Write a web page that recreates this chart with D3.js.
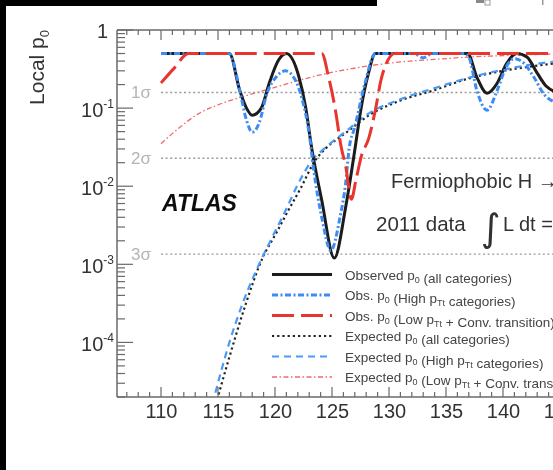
<!DOCTYPE html>
<html><head><meta charset="utf-8">
<script src="https://cdn.jsdelivr.net/npm/d3@7/dist/d3.min.js"></script>
<style>
html,body{margin:0;padding:0;background:#fff;overflow:hidden;}
svg{display:block;font-family:"Liberation Sans",Arial,Helvetica,sans-serif;}
</style></head>
<body><svg id="c" width="553" height="470"></svg>
<script>
// ---------- data ----------
const xTickValues = [110,115,120,125,130,135,140,145,150];
const xTickLabels = ["110","115","120","125","130","135","140","145","150"];
const yTickValues = [1,0.1,0.01,0.001,0.0001];
const yTickExponents = [null,"-1","-2","-3","-4"];
const sigmaLabels = ["1σ","2σ","3σ"];
const sigmaP = [0.1587,0.02275,0.00135];

const obsAllMass = [110,116.0,116.9,117.5,118.0,118.8,119.5,120.3,121.0,122.1,122.7,123.2,124.1,125.2,126.2,127.0,127.5,128.2,128.8,136.9,137.7,138.6,139.5,140.3,141.2,142.1,143.0,143.8,144.6];
const obsAllP    = [0.5,0.5,0.17,0.10,0.081,0.10,0.21,0.41,0.5,0.25,0.10,0.032,0.0066,0.0012,0.0054,0.029,0.09,0.28,0.5,0.5,0.25,0.155,0.21,0.37,0.5,0.45,0.28,0.19,0.16];

const obsHighMass = [110,116.0,116.3,116.9,117.5,118.0,118.6,119.3,120.1,120.9,121.7,122.4,123.0,123.4,124.1,124.9,125.7,126.2,126.5,127.0,127.9,128.8,132.2,133.0,133.8,136.6,137.0,137.7,138.6,139.5,140.3,141.0,141.8,142.7,143.6,144.5];
const obsHighP    = [0.5,0.5,0.41,0.17,0.07,0.049,0.064,0.155,0.25,0.30,0.24,0.127,0.047,0.016,0.004,0.0015,0.004,0.011,0.03,0.057,0.21,0.5,0.5,0.44,0.5,0.5,0.45,0.17,0.094,0.17,0.34,0.43,0.38,0.25,0.15,0.12];

const obsLowMass = [110,111.2,112.4,124.1,124.7,125.3,125.8,126.2,126.7,127.1,127.6,128.2,128.8,129.3,129.9,130.5,150];
const obsLowP    = [0.21,0.33,0.5,0.5,0.25,0.094,0.032,0.018,0.0068,0.012,0.025,0.04,0.094,0.23,0.41,0.5,0.5];

const expAllMass = [114.8,116.0,117.4,118.9,120.1,121.2,122.3,123.4,124.5,126.2,128.2,131.0,134.0,137.0,140.0,143.0,146.5,150];
const expAllP    = [1.6e-5,6.5e-5,3.0e-4,1.2e-3,2.5e-3,5.0e-3,9.7e-3,0.020,0.031,0.048,0.08,0.125,0.17,0.24,0.30,0.35,0.40,0.44];

const expHighMass = [114.5,116.0,117.1,118.3,119.6,120.9,122.0,123.2,124.4,126.2,128.2,131.0,134.0,137.0,140.0,143.0,146.5,150];
const expHighP    = [1.6e-5,1.0e-4,3.0e-4,8.0e-4,2.0e-3,4.8e-3,0.0105,0.021,0.031,0.05,0.085,0.13,0.18,0.245,0.31,0.37,0.42,0.45];

const expLowMass = [110,111.6,113.3,115.0,117.5,120.3,123.2,126.2,129.0,131.0,134.0,137.0,140.0,144.0,150];
const expLowP    = [0.035,0.056,0.085,0.11,0.145,0.19,0.25,0.31,0.36,0.39,0.42,0.45,0.47,0.49,0.5];

const legendLabels = [
  "Observed p_{0} (all categories)",
  "Obs. p_{0} (High p_{Tt} categories)",
  "Obs. p_{0} (Low p_{Tt} + Conv. transition)",
  "Expected p_{0} (all categories)",
  "Expected p_{0} (High p_{Tt} categories)",
  "Expected p_{0} (Low p_{Tt} + Conv. transition)"
];

// ---------- styles ----------
const styles = [
  {color:"#1a1a1a", width:3,   dash:null},
  {color:"#3d8cf5", width:3,   dash:"6,2.5,2,2.5"},
  {color:"#e8352e", width:3,   dash:"22,7"},
  {color:"#222222", width:2.2, dash:"2.2,3"},
  {color:"#4a9bf7", width:2.2, dash:"7,5"},
  {color:"#ef6a6a", width:1.3, dash:"5,2.5,1.5,2.5"}
];
const series = [
  {m:obsAllMass,p:obsAllP,s:styles[0]},
  {m:obsHighMass,p:obsHighP,s:styles[1]},
  {m:obsLowMass,p:obsLowP,s:styles[2]},
  {m:expAllMass,p:expAllP,s:styles[3]},
  {m:expHighMass,p:expHighP,s:styles[4]},
  {m:expLowMass,p:expLowP,s:styles[5]}
];

const svg = d3.select("#c");
const defs = svg.append("defs");
defs.append("filter").attr("id","soft").attr("x","-5%").attr("y","-5%").attr("width","110%").attr("height","110%")
  .append("feGaussianBlur").attr("stdDeviation",0.55);
const root = svg.append("g").attr("filter","url(#soft)");

const L=117, T=30, B=397;
const x = d3.scaleLinear().domain([110,140]).range([161,503]);
const R = x(150);
const y = d3.scaleLog().domain([2e-5,1]).range([B,T]);

// clip
defs.append("clipPath").attr("id","pc").append("rect")
  .attr("x",L).attr("y",T).attr("width",R-L).attr("height",B-T);

// sigma lines
const sg = root.append("g");
sigmaP.forEach((p,i)=>{
  sg.append("line").attr("x1",x(110)).attr("x2",R).attr("y1",y(p)).attr("y2",y(p))
    .attr("stroke","#9a9a9a").attr("stroke-width",1.4).attr("stroke-dasharray","2,2.6");
  sg.append("text").attr("x",131).attr("y",y(p)+6).attr("font-size",17).attr("fill","#b4b4b4")
    .text(sigmaLabels[i]);
});

// curves
const line = d3.line().x(d=>x(d[0])).y(d=>y(d[1])).curve(d3.curveMonotoneX);
const cg = root.append("g").attr("clip-path","url(#pc)");
const order=[3,4,5,0,1,2];
order.forEach(k=>{
  const sr = series[k];
  const pts = sr.m.map((m,i)=>[m,sr.p[i]]);
  cg.append("path").attr("d",line(pts)).attr("fill","none")
    .attr("stroke",sr.s.color).attr("stroke-width",sr.s.width)
    .attr("stroke-dasharray",sr.s.dash)
    .attr("stroke-linejoin","round");
});

// axes frame
const axC="#6a6a6a";
const ag = root.append("g").attr("stroke",axC).attr("stroke-width",1.5);
ag.append("line").attr("x1",L).attr("x2",L).attr("y1",T).attr("y2",B);
ag.append("line").attr("x1",L).attr("x2",R).attr("y1",B).attr("y2",B);
ag.append("line").attr("x1",L).attr("x2",R).attr("y1",T).attr("y2",T);

// x ticks (every 1 GeV minor, 5 major)
const xMinor = d3.range(107,151,1);
xMinor.forEach(v=>{
  const major = v%5===0;
  const len = major?10:5;
  ag.append("line").attr("x1",x(v)).attr("x2",x(v)).attr("y1",B).attr("y2",B-len).attr("stroke-width",1.2);
  ag.append("line").attr("x1",x(v)).attr("x2",x(v)).attr("y1",T).attr("y2",T+len).attr("stroke-width",1.2);
});
const xAxis = d3.axisBottom(x).tickValues(xTickValues).tickFormat((d,i)=>xTickLabels[i]).tickSize(0).tickPadding(0);
const xg = root.append("g").attr("transform",`translate(0,${B})`).call(xAxis);
xg.select(".domain").remove();
xg.selectAll("text").attr("font-size",20).attr("fill","#333").attr("dy",null).attr("y",21)
  .attr("font-family","Liberation Sans, Arial, sans-serif");

// y ticks
for(let e=-5;e<=0;e++){
  for(let k=1;k<=9;k++){
    const v=k*Math.pow(10,e);
    if(v<2e-5||v>1) continue;
    const len = k===1?16:8;
    ag.append("line").attr("x1",L).attr("x2",L+len).attr("y1",y(v)).attr("y2",y(v)).attr("stroke-width",1.2);
  }
}
const yl = root.append("g");
yTickValues.forEach((v,i)=>{
  if(yTickExponents[i]===null){
    yl.append("text").attr("x",108).attr("y",y(v)+8).attr("text-anchor","end")
      .attr("font-size",20).attr("fill","#333").text("1");
  } else {
    const t = yl.append("text").attr("x",114).attr("y",y(v)+9).attr("text-anchor","end")
      .attr("font-size",20).attr("fill","#333");
    t.append("tspan").text("10");
    t.append("tspan").attr("dy",-9).attr("font-size",12).text(yTickExponents[i]);
  }
});

// y title
const yt = root.append("text").attr("transform","translate(44,30) rotate(-90)")
  .attr("text-anchor","end").attr("font-size",21).attr("fill","#333");
yt.append("tspan").text("Local p");
yt.append("tspan").attr("dy",5).attr("font-size",13).text("0");

// ATLAS label
root.append("text").attr("x",162).attr("y",211).attr("font-size",23).attr("font-weight","bold")
  .attr("font-style","italic").attr("fill","#111").text("ATLAS");

// Fermiophobic text
root.append("text").attr("x",391).attr("y",188).attr("font-size",20).attr("fill","#333")
  .text("Fermiophobic H → γγ");
root.append("text").attr("x",376).attr("y",231).attr("font-size",20.5).attr("fill","#333")
  .text("2011 data");
root.append("text").attr("x",481).attr("y",241).attr("font-size",38).attr("fill","#333")
  .attr("font-family","DejaVu Sans, sans-serif").text("∫");
root.append("text").attr("x",503).attr("y",231).attr("font-size",20).attr("fill","#333")
  .text("L dt = 4.9 fb⁻¹");

// legend
const lg = root.append("g");
const legY0=274.5, legDy=20.5;
legendLabels.forEach((lab,i)=>{
  const yy = legY0+i*legDy;
  const s = styles[i];
  lg.append("line").attr("x1",272).attr("x2",332).attr("y1",yy).attr("y2",yy)
    .attr("stroke",s.color).attr("stroke-width",s.width).attr("stroke-dasharray",s.dash);
  const t = lg.append("text").attr("x",345).attr("y",yy+5).attr("font-size",13.5).attr("fill","#444");
  const parts = lab.split(/(_\{[^}]*\})/);
  parts.forEach(pt=>{
    if(!pt) return;
    if(pt.startsWith("_{")){
      t.append("tspan").attr("dy",3).attr("font-size",9).text(pt.slice(2,-1));
      t.append("tspan").attr("dy",-3).text("");
    } else t.append("tspan").text(pt);
  });
});

// black borders of the cropped scan
svg.append("rect").attr("x",0).attr("y",0).attr("width",6).attr("height",470).attr("fill","#000");
svg.append("rect").attr("x",0).attr("y",0).attr("width",377).attr("height",6).attr("fill","#000");
// fragments at top right
svg.append("rect").attr("x",476).attr("y",0).attr("width",8).attr("height",3).attr("fill","#888");
svg.append("rect").attr("x",485).attr("y",0).attr("width",5).attr("height",5).attr("fill","none").attr("stroke","#999");
svg.append("rect").attr("x",542).attr("y",0).attr("width",1.5).attr("height",5).attr("fill","#999");
</script></body></html>
